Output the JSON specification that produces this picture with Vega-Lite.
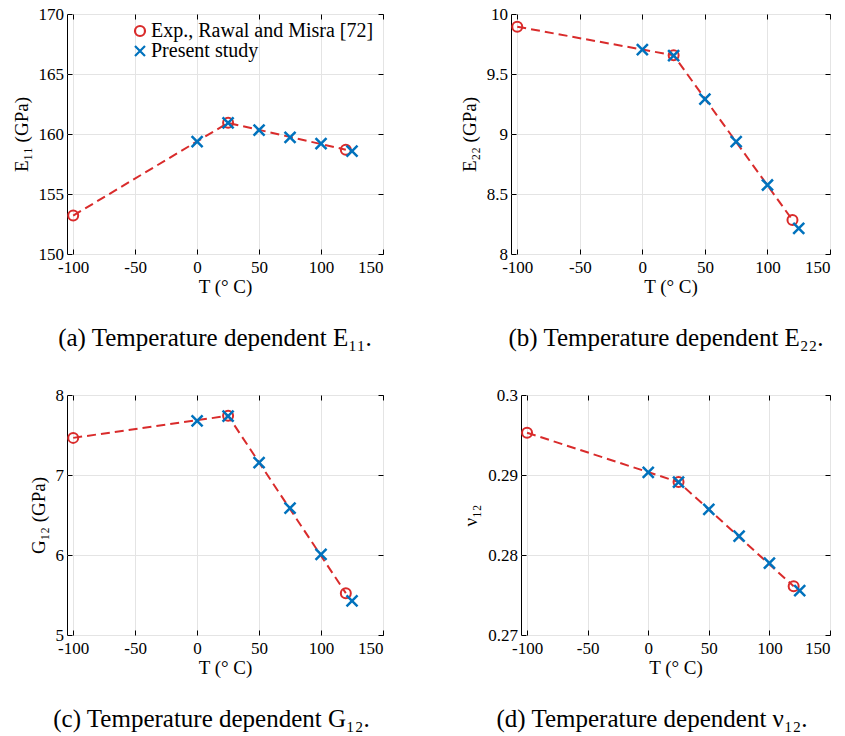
{
  "$schema": "https://vega.github.io/schema/vega-lite/v6.json",
  "padding": {"left": 11, "top": 4, "right": 5, "bottom": 5},
  "background": "white",
  "spacing": 33,
  "config": {
    "view": {"stroke": "black", "strokeWidth": 1},
    "axis": {
      "domain": false,
      "tickColor": "black",
      "tickSize": -5,
      "tickWidth": 1,
      "labelFont": "Liberation Serif",
      "labelFontSize": 17,
      "labelColor": "black",
      "titleFont": "Liberation Serif",
      "titleFontSize": 19,
      "titleFontWeight": "normal",
      "titleColor": "black",
      "gridColor": "#e4e4e4",
      "gridWidth": 1,
      "labelExpr": "datum.value + ''"
    },
    "axisX": {"labelPadding": 10, "titlePadding": 2},
    "axisY": {"labelPadding": 8.5, "titlePadding": 7},
    "title": {"font": "Liberation Serif", "fontSize": 25, "fontWeight": "normal", "color": "black", "anchor": "middle"},
    "legend": {
      "orient": "none",
      "legendX": 63,
      "legendY": 7,
      "labelFont": "Liberation Serif",
      "labelFontSize": 20,
      "labelColor": "black",
      "labelLimit": 0,
      "symbolSize": 100,
      "symbolStrokeWidth": 2.2,
      "rowPadding": 0,
      "labelOffset": 1
    }
  },
  "vconcat": [
    {
      "bounds": "flush",
      "spacing": 128,
      "hconcat": [
        {
          "width": 316,
          "height": 240,
          "title": {"text": "(a) Temperature dependent E₁₁.", "orient": "bottom", "offset": 30, "dx": -10},
          "data": {"values": [
            {"T": -100, "v": 153.2, "series": "Exp., Rawal and Misra [72]"},
            {"T": 25, "v": 160.93, "series": "Exp., Rawal and Misra [72]"},
            {"T": 120, "v": 158.69, "series": "Exp., Rawal and Misra [72]"},
            {"T": 0, "v": 159.37, "series": "Present study"},
            {"T": 25, "v": 160.93, "series": "Present study"},
            {"T": 50, "v": 160.33, "series": "Present study"},
            {"T": 75, "v": 159.72, "series": "Present study"},
            {"T": 100, "v": 159.2, "series": "Present study"},
            {"T": 125, "v": 158.57, "series": "Present study"}
          ]},
          "resolve": {"axis": {"x": "independent", "y": "independent"}},
          "layer": [
            {
              "transform": [{"filter": "datum.series == 'Exp., Rawal and Misra [72]'"}],
              "mark": {"type": "line", "color": "#d92b2b", "strokeDash": [9, 5], "strokeWidth": 2},
              "encoding": {
                "x": {"field": "T", "type": "quantitative", "scale": {"domain": [-105, 150], "nice": false, "zero": false},
                      "axis": {"orient": "top", "values": [-100, -50, 0, 50, 100, 150], "labels": false, "title": null, "grid": false}},
                "y": {"field": "v", "type": "quantitative", "scale": {"domain": [150, 170], "nice": false, "zero": false},
                      "axis": {"orient": "right", "values": [150, 155, 160, 165, 170], "labels": false, "title": null, "grid": false}}
              }
            },
            {
              "transform": [{"filter": "datum.series == 'Exp., Rawal and Misra [72]'"}],
              "mark": {"type": "point", "filled": false, "strokeWidth": 2, "size": 100, "opacity": 1},
              "encoding": {
                "x": {"field": "T", "type": "quantitative", "scale": {"domain": [-105, 150], "nice": false, "zero": false},
                      "axis": {"orient": "bottom", "values": [-100, -50, 0, 50, 100, 150], "title": "T (° C)", "grid": true}},
                "y": {"field": "v", "type": "quantitative", "scale": {"domain": [150, 170], "nice": false, "zero": false},
                      "axis": {"orient": "left", "values": [150, 155, 160, 165, 170], "title": "E₁₁ (GPa)", "grid": true}},
                "shape": {"field": "series", "type": "nominal",
                  "scale": {"domain": ["Exp., Rawal and Misra [72]", "Present study"], "range": ["M1,0A1,1,0,1,1,-1,0A1,1,0,1,1,1,0Z", "M-1,-1L1,1M-1,1L1,-1"]},
                  "legend": {"title": null, "encode": {"symbols": {"update": {"shape": {"signal": "datum.label == 'Present study' ? 'M-1,-1L1,1M-1,1L1,-1' : 'M-2.4,0L0,0M1,0A1,1,0,1,1,-1,0A1,1,0,1,1,1,0Z'"}}}}}},
                "stroke": {"field": "series", "type": "nominal",
                  "scale": {"domain": ["Exp., Rawal and Misra [72]", "Present study"], "range": ["#d92b2b", "#0072bd"]},
                  "legend": {"title": null}}
              }
            },
            {
              "transform": [{"filter": "datum.series == 'Present study'"}],
              "mark": {"type": "point", "filled": false, "strokeWidth": 2.5, "size": 121, "opacity": 1},
              "encoding": {
                "x": {"field": "T", "type": "quantitative", "scale": {"domain": [-105, 150], "nice": false, "zero": false}, "axis": null},
                "y": {"field": "v", "type": "quantitative", "scale": {"domain": [150, 170], "nice": false, "zero": false}, "axis": null},
                "shape": {"field": "series", "type": "nominal",
                  "scale": {"domain": ["Exp., Rawal and Misra [72]", "Present study"], "range": ["M1,0A1,1,0,1,1,-1,0A1,1,0,1,1,1,0Z", "M-1,-1L1,1M-1,1L1,-1"]},
                  "legend": {"title": null, "encode": {"symbols": {"update": {"shape": {"signal": "datum.label == 'Present study' ? 'M-1,-1L1,1M-1,1L1,-1' : 'M-2.4,0L0,0M1,0A1,1,0,1,1,-1,0A1,1,0,1,1,1,0Z'"}}}}}},
                "stroke": {"field": "series", "type": "nominal",
                  "scale": {"domain": ["Exp., Rawal and Misra [72]", "Present study"], "range": ["#d92b2b", "#0072bd"]},
                  "legend": {"title": null}}
              }
            }
          ]
        },
        {
          "width": 319,
          "height": 240,
          "title": {"text": "(b) Temperature dependent E₂₂.", "orient": "bottom", "offset": 30, "dx": -4.5},
          "data": {"values": [
            {"T": -100, "v": 9.894, "series": "Exp."},
            {"T": 25, "v": 9.656, "series": "Exp."},
            {"T": 120, "v": 8.283, "series": "Exp."},
            {"T": 0, "v": 9.703, "series": "Present"},
            {"T": 25, "v": 9.653, "series": "Present"},
            {"T": 50, "v": 9.29, "series": "Present"},
            {"T": 75, "v": 8.936, "series": "Present"},
            {"T": 100, "v": 8.575, "series": "Present"},
            {"T": 125, "v": 8.214, "series": "Present"}
          ]},
          "resolve": {"axis": {"x": "independent", "y": "independent"}},
          "layer": [
            {
              "transform": [{"filter": "datum.series == 'Exp.'"}],
              "mark": {"type": "line", "color": "#d92b2b", "strokeDash": [9, 5], "strokeWidth": 2},
              "encoding": {
                "x": {"field": "T", "type": "quantitative", "scale": {"domain": [-105, 150], "nice": false, "zero": false},
                      "axis": {"orient": "top", "values": [-100, -50, 0, 50, 100, 150], "labels": false, "title": null, "grid": false}},
                "y": {"field": "v", "type": "quantitative", "scale": {"domain": [8, 10], "nice": false, "zero": false},
                      "axis": {"orient": "right", "values": [8, 8.5, 9, 9.5, 10], "labels": false, "title": null, "grid": false}}
              }
            },
            {
              "transform": [{"filter": "datum.series == 'Exp.'"}],
              "mark": {"type": "point", "filled": false, "strokeWidth": 2, "size": 100, "opacity": 1, "color": "#d92b2b", "shape": "M1,0A1,1,0,1,1,-1,0A1,1,0,1,1,1,0Z"},
              "encoding": {
                "x": {"field": "T", "type": "quantitative", "scale": {"domain": [-105, 150], "nice": false, "zero": false},
                      "axis": {"orient": "bottom", "values": [-100, -50, 0, 50, 100, 150], "title": "T (° C)", "grid": true}},
                "y": {"field": "v", "type": "quantitative", "scale": {"domain": [8, 10], "nice": false, "zero": false},
                      "axis": {"orient": "left", "values": [8, 8.5, 9, 9.5, 10], "title": "E₂₂ (GPa)", "grid": true}}
              }
            },
            {
              "transform": [{"filter": "datum.series == 'Present'"}],
              "mark": {"type": "point", "filled": false, "strokeWidth": 2.5, "size": 121, "opacity": 1, "color": "#0072bd", "shape": "M-1,-1L1,1M-1,1L1,-1"},
              "encoding": {
                "x": {"field": "T", "type": "quantitative", "scale": {"domain": [-105, 150], "nice": false, "zero": false}, "axis": null},
                "y": {"field": "v", "type": "quantitative", "scale": {"domain": [8, 10], "nice": false, "zero": false}, "axis": null}
              }
            }
          ]
        }
      ]
    },
    {
      "bounds": "flush",
      "spacing": 138,
      "hconcat": [
        {
          "width": 316,
          "height": 240,
          "title": {"text": "(c) Temperature dependent G₁₂.", "orient": "bottom", "offset": 30, "dx": -13.5},
          "data": {"values": [
            {"T": -100, "v": 7.464, "series": "Exp."},
            {"T": 25, "v": 7.74, "series": "Exp."},
            {"T": 120, "v": 5.523, "series": "Exp."},
            {"T": 0, "v": 7.678, "series": "Present"},
            {"T": 25, "v": 7.735, "series": "Present"},
            {"T": 50, "v": 7.155, "series": "Present"},
            {"T": 75, "v": 6.586, "series": "Present"},
            {"T": 100, "v": 6.008, "series": "Present"},
            {"T": 125, "v": 5.427, "series": "Present"}
          ]},
          "resolve": {"axis": {"x": "independent", "y": "independent"}},
          "layer": [
            {
              "transform": [{"filter": "datum.series == 'Exp.'"}],
              "mark": {"type": "line", "color": "#d92b2b", "strokeDash": [9, 5], "strokeWidth": 2},
              "encoding": {
                "x": {"field": "T", "type": "quantitative", "scale": {"domain": [-105, 150], "nice": false, "zero": false},
                      "axis": {"orient": "top", "values": [-100, -50, 0, 50, 100, 150], "labels": false, "title": null, "grid": false}},
                "y": {"field": "v", "type": "quantitative", "scale": {"domain": [5, 8], "nice": false, "zero": false},
                      "axis": {"orient": "right", "values": [5, 6, 7, 8], "labels": false, "title": null, "grid": false}}
              }
            },
            {
              "transform": [{"filter": "datum.series == 'Exp.'"}],
              "mark": {"type": "point", "filled": false, "strokeWidth": 2, "size": 100, "opacity": 1, "color": "#d92b2b", "shape": "M1,0A1,1,0,1,1,-1,0A1,1,0,1,1,1,0Z"},
              "encoding": {
                "x": {"field": "T", "type": "quantitative", "scale": {"domain": [-105, 150], "nice": false, "zero": false},
                      "axis": {"orient": "bottom", "values": [-100, -50, 0, 50, 100, 150], "title": "T (° C)", "grid": true}},
                "y": {"field": "v", "type": "quantitative", "scale": {"domain": [5, 8], "nice": false, "zero": false},
                      "axis": {"orient": "left", "values": [5, 6, 7, 8], "title": "G₁₂ (GPa)", "grid": true}}
              }
            },
            {
              "transform": [{"filter": "datum.series == 'Present'"}],
              "mark": {"type": "point", "filled": false, "strokeWidth": 2.5, "size": 121, "opacity": 1, "color": "#0072bd", "shape": "M-1,-1L1,1M-1,1L1,-1"},
              "encoding": {
                "x": {"field": "T", "type": "quantitative", "scale": {"domain": [-105, 150], "nice": false, "zero": false}, "axis": null},
                "y": {"field": "v", "type": "quantitative", "scale": {"domain": [5, 8], "nice": false, "zero": false}, "axis": null}
              }
            }
          ]
        },
        {
          "width": 309,
          "height": 240,
          "title": {"text": "(d) Temperature dependent ν₁₂.", "orient": "bottom", "offset": 30, "dx": -23.5},
          "data": {"values": [
            {"T": -100, "v": 0.29529, "series": "Exp."},
            {"T": 25, "v": 0.28912, "series": "Exp."},
            {"T": 120, "v": 0.27609, "series": "Exp."},
            {"T": 0, "v": 0.29034, "series": "Present"},
            {"T": 25, "v": 0.28912, "series": "Present"},
            {"T": 50, "v": 0.28571, "series": "Present"},
            {"T": 75, "v": 0.28235, "series": "Present"},
            {"T": 100, "v": 0.27899, "series": "Present"},
            {"T": 125, "v": 0.27555, "series": "Present"}
          ]},
          "resolve": {"axis": {"x": "independent", "y": "independent"}},
          "layer": [
            {
              "transform": [{"filter": "datum.series == 'Exp.'"}],
              "mark": {"type": "line", "color": "#d92b2b", "strokeDash": [9, 5], "strokeWidth": 2},
              "encoding": {
                "x": {"field": "T", "type": "quantitative", "scale": {"domain": [-105, 150], "nice": false, "zero": false},
                      "axis": {"orient": "top", "values": [-100, -50, 0, 50, 100, 150], "labels": false, "title": null, "grid": false}},
                "y": {"field": "v", "type": "quantitative", "scale": {"domain": [0.27, 0.3], "nice": false, "zero": false},
                      "axis": {"orient": "right", "values": [0.27, 0.28, 0.29, 0.3], "labels": false, "title": null, "grid": false}}
              }
            },
            {
              "transform": [{"filter": "datum.series == 'Exp.'"}],
              "mark": {"type": "point", "filled": false, "strokeWidth": 2, "size": 100, "opacity": 1, "color": "#d92b2b", "shape": "M1,0A1,1,0,1,1,-1,0A1,1,0,1,1,1,0Z"},
              "encoding": {
                "x": {"field": "T", "type": "quantitative", "scale": {"domain": [-105, 150], "nice": false, "zero": false},
                      "axis": {"orient": "bottom", "values": [-100, -50, 0, 50, 100, 150], "title": "T (° C)", "grid": true}},
                "y": {"field": "v", "type": "quantitative", "scale": {"domain": [0.27, 0.3], "nice": false, "zero": false},
                      "axis": {"orient": "left", "values": [0.27, 0.28, 0.29, 0.3], "title": "ν₁₂", "grid": true}}
              }
            },
            {
              "transform": [{"filter": "datum.series == 'Present'"}],
              "mark": {"type": "point", "filled": false, "strokeWidth": 2.5, "size": 121, "opacity": 1, "color": "#0072bd", "shape": "M-1,-1L1,1M-1,1L1,-1"},
              "encoding": {
                "x": {"field": "T", "type": "quantitative", "scale": {"domain": [-105, 150], "nice": false, "zero": false}, "axis": null},
                "y": {"field": "v", "type": "quantitative", "scale": {"domain": [0.27, 0.3], "nice": false, "zero": false}, "axis": null}
              }
            }
          ]
        }
      ]
    }
  ]
}
